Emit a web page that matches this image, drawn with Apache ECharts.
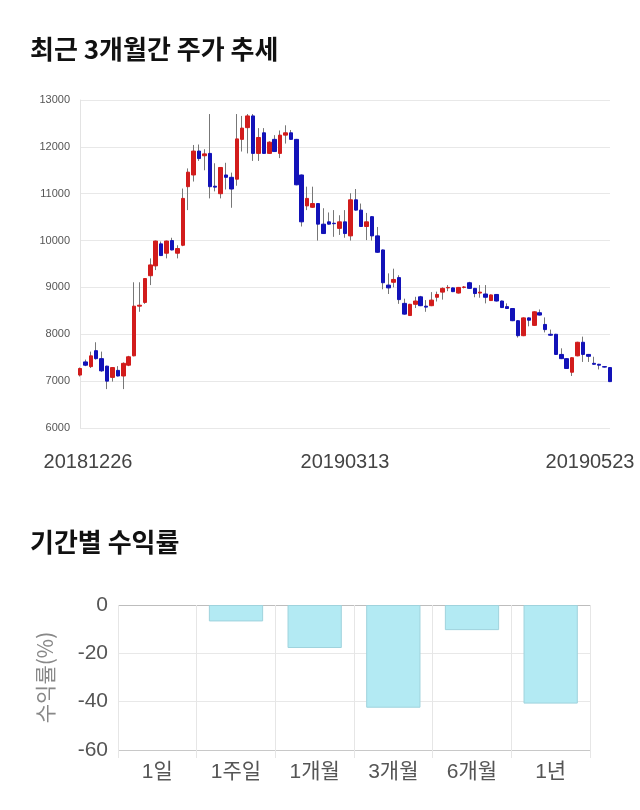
<!DOCTYPE html>
<html><head><meta charset="utf-8">
<script src="https://cdn.jsdelivr.net/npm/echarts@6/dist/echarts.min.js"></script>
<style>html,body{margin:0;padding:0;background:#fff}#c{width:640px;height:810px}</style>
</head><body><div id="c"></div>
<script>
const dates = [
'20181226','20181227','20181228',
'20190102','20190103','20190104','20190107','20190108','20190109','20190110','20190111','20190114','20190115','20190116','20190117','20190118','20190121','20190122','20190123','20190124','20190125','20190128','20190129','20190130','20190131',
'20190201','20190207','20190208','20190211','20190212','20190213','20190214','20190215','20190218','20190219','20190220','20190221','20190222','20190225','20190226','20190227','20190228',
'20190304','20190305','20190306','20190307','20190308','20190311','20190312','20190313','20190314','20190315','20190318','20190319','20190320','20190321','20190322','20190325','20190326','20190327','20190328','20190329',
'20190401','20190402','20190403','20190404','20190405','20190408','20190409','20190410','20190411','20190412','20190415','20190416','20190417','20190418','20190419','20190422','20190423','20190424','20190425','20190426','20190429','20190430',
'20190502','20190503','20190507','20190508','20190509','20190510','20190513','20190514','20190515','20190516','20190517','20190520','20190521','20190522','20190523'];
const openP  = [7130,7410,7310,7650,7480,7320,7080,7230,7110,7340,7540,8600,8680,9250,9460,9930,9730,10000,9730,9900,11150,11400,11910,11810,11860,11160,11000,11400,11350,11310,12160,12410,12660,11860,12300,11860,12160,11860,12250,12300,12160,11400,10740,10710,10790,10350,10400,10370,10260,10400,10100,10870,10650,10300,10510,10100,9800,9050,9110,9210,8660,8400,8640,8800,8600,8610,8790,8900,8990,8990,8880,9000,9100,8980,8880,8860,8720,8850,8710,8590,8550,8290,7970,8350,8190,8460,8210,8000,8000,7570,7480,7190,7540,7830,7570,7380,7360,7310,7290];
const closeP = [7270,7340,7540,7480,7220,7000,7290,7110,7380,7520,8600,8620,9190,9480,9990,9680,9990,9800,9830,10900,11460,11910,11750,11850,11150,11140,11560,11350,11100,12170,12400,12660,11860,12200,11860,12100,11900,12250,12300,12160,11190,10400,10900,10790,10350,10150,10350,10360,10400,10150,10870,10650,10300,10400,10100,9750,9100,8990,9170,8740,8430,8640,8710,8610,8580,8730,8850,8980,9000,8910,9000,9010,8980,8870,8900,8790,8840,8710,8570,8550,8290,7970,8350,8300,8480,8410,8100,7980,7570,7480,7270,7500,7830,7570,7530,7360,7340,7300,6990];
const lowP   = [7100,7320,7280,7460,7200,6830,6990,7100,6830,7320,7530,8480,8650,9050,9370,9670,9620,9790,9620,9880,10650,11260,11700,11500,10900,11050,10900,11090,10700,11170,11900,11860,11700,11700,11850,11850,11890,11760,12070,12150,11180,10300,10650,10700,10000,10140,10340,10080,10120,10060,10000,10640,10290,10010,10000,9740,8960,8860,9000,8650,8420,8390,8560,8600,8480,8600,8700,8740,8920,8900,8870,8980,8970,8790,8780,8660,8710,8700,8560,8540,8280,7930,7960,8170,8180,8400,8040,7970,7560,7470,7260,7110,7530,7410,7410,7350,7250,7290,6980];
const highP  = [7290,7460,7630,7830,7630,7330,7300,7320,7400,7540,9110,9110,9200,9620,10000,9980,10000,10060,9900,11110,11540,12040,12050,11950,12700,11650,11570,11660,11450,12700,12660,12700,12700,12400,12400,12120,12250,12350,12460,12360,12170,11410,11150,11150,10800,10690,10600,10650,10540,10650,11010,11100,10790,10590,10520,10290,9810,9300,9400,9260,8760,8650,8800,8820,8730,8900,8910,9000,9050,9000,9010,9030,9120,8990,9050,9050,8850,8860,8720,8660,8560,8300,8360,8360,8490,8530,8360,8100,8010,7700,7490,7510,7840,7950,7580,7520,7370,7320,7300];
const priceTicks = [6000, 13000, 1000];

const periods = ['1일','1주일','1개월','3개월','6개월','1년'];
const returns = [0, -6.8, -17.8, -42.5, -10.4, -40.8];

const wickData = dates.map((d,i)=>[openP[i],closeP[i],lowP[i],highP[i]]);
const bodyData = dates.map((d,i)=>[openP[i],closeP[i],Math.min(openP[i],closeP[i]),Math.max(openP[i],closeP[i])]);
const barData = returns.map(v => v === 0 ? {value:v, itemStyle:{borderWidth:0}} : v);
const labelIdx = [0, 49, dates.length-1];

const FONT = "'Liberation Sans','Noto Sans CJK KR',sans-serif";
const KFONT = "'Noto Sans CJK KR',sans-serif";
const chart = echarts.init(document.getElementById('c'), null, {renderer:'canvas'});
chart.setOption({
  animation:false,
  textStyle:{fontFamily:FONT},
  title:[
    {text:'최근 3개월간 주가 추세', left:30, top:36, padding:0, textStyle:{fontFamily:KFONT, fontWeight:'bold', fontSize:26, color:'#111'}},
    {text:'기간별 수익률', left:30, top:529, padding:0, textStyle:{fontFamily:KFONT, fontWeight:'bold', fontSize:26, color:'#111'}}
  ],
  grid:[
    {left:80, right:30, top:100, bottom:382},
    {left:118, right:50, top:605, bottom:60}
  ],
  xAxis:[
    {type:'category', gridIndex:0, data:dates, boundaryGap:false,
     axisLine:{show:false}, axisTick:{show:false}, splitLine:{show:false},
     axisLabel:{interval:(i)=>labelIdx.includes(i), margin:24, fontSize:20, color:'#444', fontFamily:FONT,
       formatter:(v,i)=> i===0 ? '{a|'+v+'}' : (i===dates.length-1 ? '{b|'+v+'}' : v),
       rich:{a:{padding:[0,0,0,16], fontSize:20, color:'#444', fontFamily:FONT}, b:{padding:[0,40,0,0], fontSize:20, color:'#444', fontFamily:FONT}}}},
    {type:'category', gridIndex:1, data:periods, position:'bottom',
     axisLine:{onZero:false, show:false}, axisTick:{show:true, length:8, lineStyle:{color:'#e6e6e6'}},
     splitLine:{show:true, lineStyle:{color:'#e6e6e6'}},
     axisLabel:{fontSize:21, color:'#555', margin:12, fontFamily:FONT}}
  ],
  yAxis:[
    {type:'value', gridIndex:0, min:priceTicks[0], max:priceTicks[1], interval:priceTicks[2],
     axisLine:{show:true, lineStyle:{color:'#e3e3e3'}}, axisTick:{show:false},
     splitLine:{lineStyle:{color:'#e8e8e8'}},
     axisLabel:{fontSize:11, color:'#555', margin:10, fontFamily:FONT, formatter:(v)=>String(v)}},
    {type:'value', gridIndex:1, min:-60, max:0, interval:20,
     name:'수익률(%)', nameLocation:'middle', nameGap:62, nameRotate:90,
     nameTextStyle:{fontSize:21, color:'#888', fontFamily:KFONT},
     axisLine:{show:false}, axisTick:{show:false},
     splitLine:{lineStyle:{color:['#c8c8c8','#e8e8e8','#e8e8e8','#bdbdbd']}},
     axisLabel:{fontSize:21, color:'#555', margin:10, fontFamily:FONT}}
  ],
  series:[
    {type:'candlestick', xAxisIndex:0, yAxisIndex:0, data:wickData, barWidth:1, clip:false,
     itemStyle:{color:'#777', color0:'#777', borderColor:'#777', borderColor0:'#777', borderWidth:1}},
    {type:'candlestick', xAxisIndex:0, yAxisIndex:0, data:bodyData, barWidth:4, clip:false,
     itemStyle:{color:'#d21c1c', color0:'#1212b8', borderColor:'#d21c1c', borderColor0:'#1212b8', borderWidth:1}},
    {type:'bar', xAxisIndex:1, yAxisIndex:1, data:barData, barWidth:'69%',
     itemStyle:{color:'#b3eaf3', borderColor:'#9fd3dd', borderWidth:1}}
  ]
});
</script></body></html>
